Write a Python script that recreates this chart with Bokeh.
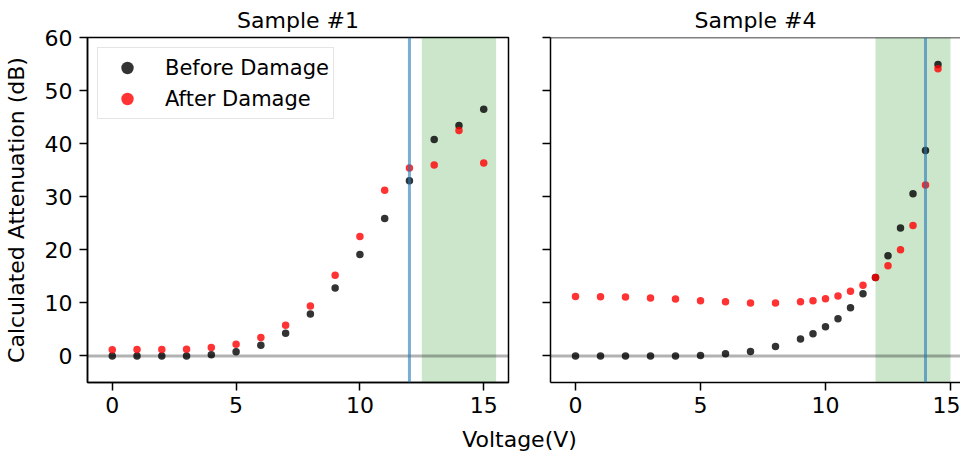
from bokeh.plotting import figure
from bokeh.layouts import column, row
from bokeh.models import (Range1d, FixedTicker, BoxAnnotation, Span, Legend,
                          LegendItem, ColumnDataSource, Label, CustomJSTickFormatter)
from bokeh.embed import file_html
from bokeh.resources import INLINE

# ---------------- data ----------------
s1_voltage = [0, 1, 2, 3, 4, 5, 6, 7, 8, 9, 10, 11, 12, 13, 14, 15]
s1_before = [0, 0, 0, 0, 0.25, 0.8, 2.0, 4.3, 7.9, 12.8, 19.1, 25.9, 33.0, 40.8, 43.4, 46.5]
s1_after = [1.17, 1.2, 1.2, 1.25, 1.6, 2.2, 3.5, 5.8, 9.4, 15.2, 22.5, 31.2, 35.4, 36.0, 42.5, 36.35]

s4_voltage = [0, 1, 2, 3, 4, 5, 6, 7, 8, 9, 9.5, 10, 10.5, 11, 11.5, 12, 12.5, 13, 13.5, 14, 14.5]
s4_before = [0, 0, 0, 0, 0, 0.1, 0.4, 0.86, 1.8, 3.2, 4.2, 5.5, 7.0, 9.1, 11.7, 14.8, 18.9,
             24.1, 30.55, 38.7, 54.9]
s4_after = [11.2, 11.15, 11.1, 10.9, 10.75, 10.4, 10.2, 10.0, 10.0, 10.2, 10.4, 10.8, 11.3,
            12.2, 13.3, 14.8, 17.0, 20.0, 24.6, 32.2, 54.1]

panel_titles = ["Sample #1", "Sample #4"]
vline_voltage = [12, 14]
band_start = [12.5, 12]
band_end = [15.5, 15]
baseline_value = 0
x_ticks = [0, 5, 10, 15]
y_ticks = [0, 10, 20, 30, 40, 50, 60]
series_labels = ["Before Damage", "After Damage"]
y_label = "Calculated Attenuation (dB)"
x_label = "Voltage(V)"

FONT = "DejaVu Sans"
BLACK = "#000000"
RED = "#ff0000"


def make_panel(i, xs, before, after, width, x_end, left_border, show_ylabels):
    p = figure(width=width, height=423, output_backend="svg", toolbar_location=None,
               x_range=Range1d(-1, x_end), y_range=Range1d(-5, 60),
               min_border_left=left_border, min_border_right=(14 if i == 0 else 0),
               min_border_top=31, min_border_bottom=41)
    p.grid.visible = False
    p.background_fill_color = "white"
    p.border_fill_color = "white"

    p.title.text = panel_titles[i]
    p.title.align = "center"
    p.title.text_font = FONT
    p.title.text_font_size = "22px"
    p.title.text_font_style = "normal"
    p.title.text_color = "#000000"

    for ax in (p.xaxis, p.yaxis):
        ax.axis_line_color = "black"
        ax.axis_line_width = 1.5
        ax.major_tick_line_color = "black"
        ax.major_tick_line_width = 1.5
        ax.major_tick_out = 8
        ax.major_tick_in = 0
        ax.minor_tick_line_color = None
        ax.major_label_text_font = FONT
        ax.major_label_text_font_size = "22px"
        ax.major_label_text_color = "black"
    p.xaxis.ticker = FixedTicker(ticks=x_ticks)
    p.yaxis.ticker = FixedTicker(ticks=y_ticks)
    p.xaxis.major_label_standoff = 6
    p.yaxis.major_label_standoff = 7

    if show_ylabels:
        p.yaxis.axis_label = y_label
        p.yaxis.axis_label_text_font = FONT
        p.yaxis.axis_label_text_font_size = "22px"
        p.yaxis.axis_label_text_font_style = "normal"
        p.yaxis.axis_label_text_color = "black"
        p.yaxis.axis_label_standoff = 13
        p.outline_line_color = "black"
        p.outline_line_width = 1.5
        p.outline_line_alpha = 1
    else:
        p.yaxis.formatter = CustomJSTickFormatter(code="return ''")
        p.yaxis.major_label_standoff = 0
        p.outline_line_color = None
        p.add_layout(Span(location=y_ticks[-1], dimension="width", line_color="black",
                          line_width=1.5))

    # shaded band and lines
    p.add_layout(BoxAnnotation(left=band_start[i], right=band_end[i], fill_color="green",
                               fill_alpha=0.2, line_color=None, level="underlay"))
    p.add_layout(Span(location=baseline_value, dimension="width", line_color="black",
                      line_alpha=0.3, line_width=3))
    p.add_layout(Span(location=vline_voltage[i], dimension="height", line_color="#1f77b4",
                      line_alpha=0.6, line_width=3))

    src = ColumnDataSource(dict(x=xs, before=before, after=after))
    r_b = p.scatter("x", "before", source=src, size=7.5, fill_color=BLACK, fill_alpha=0.8,
                    line_color=None)
    r_a = p.scatter("x", "after", source=src, size=7.5, fill_color=RED, fill_alpha=0.8,
                    line_color=None)
    return p, r_b, r_a


p1, b1, a1 = make_panel(0, s1_voltage, s1_before, s1_after, 522, 16, 83, True)
p2, b2, a2 = make_panel(1, s4_voltage, s4_before, s4_after, 438, 15.4, 28, False)

legend = Legend(items=[LegendItem(label=series_labels[0], renderers=[b1]),
                       LegendItem(label=series_labels[1], renderers=[a1])],
                location="top_left")
legend.label_text_font = FONT
legend.label_text_font_size = "21px"
legend.label_text_color = "black"
legend.glyph_width = 50
legend.glyph_height = 31
legend.label_height = 31
legend.label_standoff = 13
legend.spacing = 0
legend.padding = 4
legend.margin = 10
legend.border_line_color = "#cccccc"
legend.border_line_width = 1.5
legend.background_fill_alpha = 0.8
p1.add_layout(legend)

# shared x-axis label underneath both panels
p3 = figure(width=960, height=28, output_backend="svg", toolbar_location=None, title=None,
            x_range=Range1d(0, 960), y_range=Range1d(0, 28),
            x_axis_type=None, y_axis_type=None,
            min_border_left=0, min_border_right=0, min_border_top=0, min_border_bottom=0)
p3.grid.visible = False
p3.outline_line_color = None
p3.add_layout(Label(x=519, y=12, text=x_label, text_font=FONT, text_font_size="22px",
                    text_align="center", text_baseline="middle", text_color="black"))

layout = column(row(p1, p2, spacing=0), p3, spacing=0)

open("out.html", "w").write(file_html(layout, INLINE))
